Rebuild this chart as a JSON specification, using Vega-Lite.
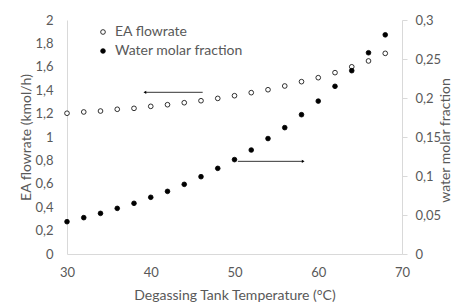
{
  "$schema": "https://vega.github.io/schema/vega-lite/v6.json",
  "width": 335,
  "height": 234,
  "autosize": "none",
  "padding": {"left": 67, "top": 20, "right": 54, "bottom": 53},
  "background": "white",
  "config": {
    "view": {"stroke": null},
    "font": "Lato",
    "locale": {"number": {"decimal": ",", "thousands": ".", "grouping": [3], "currency": ["", " €"]}},
    "axis": {"grid": false, "labelColor": "#595959", "titleColor": "#595959", "labelFont": "Lato", "titleFont": "Lato", "labelFontSize": 13, "titleFontSize": 14, "titleFontWeight": "normal", "domainColor": "#d9d9d9", "ticks": false, "labelFlush": false, "labelOverlap": false}
  },
  "datasets": {
    "pts": [
      {"T": 30, "ea": 1.203, "water": 0.0414},
      {"T": 32, "ea": 1.214, "water": 0.0466},
      {"T": 34, "ea": 1.222, "water": 0.0521},
      {"T": 36, "ea": 1.237, "water": 0.0585},
      {"T": 38, "ea": 1.245, "water": 0.065},
      {"T": 40, "ea": 1.262, "water": 0.0727},
      {"T": 42, "ea": 1.276, "water": 0.0803},
      {"T": 44, "ea": 1.293, "water": 0.0893},
      {"T": 46, "ea": 1.31, "water": 0.0991},
      {"T": 48, "ea": 1.33, "water": 0.1098},
      {"T": 50, "ea": 1.353, "water": 0.121},
      {"T": 52, "ea": 1.379, "water": 0.1333},
      {"T": 54, "ea": 1.404, "water": 0.148},
      {"T": 56, "ea": 1.436, "water": 0.162},
      {"T": 58, "ea": 1.473, "water": 0.1786},
      {"T": 60, "ea": 1.507, "water": 0.196},
      {"T": 62, "ea": 1.55, "water": 0.215},
      {"T": 64, "ea": 1.6, "water": 0.235},
      {"T": 66, "ea": 1.65, "water": 0.258},
      {"T": 68, "ea": 1.715, "water": 0.281}
    ],
    "arrows": [
      {"x1": 46.2, "x2": 39.3, "y": 1.382, "head": "triangle-left"},
      {"x1": 50.4, "x2": 58.2, "y": 0.792, "head": "triangle-right"}
    ]
  },
  "layer": [
    {
      "data": {"name": "pts"},
      "mark": {"type": "point", "filled": true, "stroke": "black", "strokeWidth": 0.8, "size": 22, "opacity": 1},
      "encoding": {
        "x": {"field": "T", "type": "quantitative", "scale": {"domain": [30, 70], "nice": false}, "axis": {"values": [30, 40, 50, 60, 70], "title": "Degassing Tank Temperature (°C)", "labelPadding": 12, "titlePadding": 9, "labelOverlap": false}},
        "y": {"field": "ea", "type": "quantitative", "scale": {"domain": [0, 2], "nice": false}, "axis": {"values": [0, 0.2, 0.4, 0.6, 0.8, 1, 1.2, 1.4, 1.6, 1.8, 2], "format": ".1~f", "title": "EA flowrate (kmol/h)", "labelPadding": 14, "labelOverlap": false, "titleX": -41, "titleY": 117, "titleBaseline": "middle", "titleAlign": "center", "titleAngle": 270}},
        "fill": {"datum": "EA flowrate", "type": "nominal", "scale": {"domain": ["EA flowrate", "Water molar fraction"], "range": ["white", "black"]}, "legend": {"title": null, "orient": "none", "legendX": 29, "legendY": 5, "symbolType": "circle", "symbolSize": 22, "symbolStrokeColor": "black", "symbolStrokeWidth": 0.8, "labelFontSize": 14, "labelColor": "#595959", "labelFont": "Lato", "rowPadding": 5, "labelOffset": 5}}
      }
    },
    {
      "data": {"name": "arrows"},
      "mark": {"type": "rule", "color": "black", "strokeWidth": 0.8},
      "encoding": {
        "x": {"field": "x1", "type": "quantitative", "scale": {"domain": [30, 70], "nice": false}, "title": "Degassing Tank Temperature (°C)"},
        "x2": {"field": "x2"},
        "y": {"field": "y", "type": "quantitative", "scale": {"domain": [0, 2], "nice": false}, "axis": null}
      }
    },
    {
      "data": {"name": "arrows"},
      "mark": {"type": "point", "filled": true, "color": "black", "size": 10, "opacity": 1},
      "encoding": {
        "x": {"field": "x2", "type": "quantitative", "scale": {"domain": [30, 70], "nice": false}, "title": "Degassing Tank Temperature (°C)"},
        "y": {"field": "y", "type": "quantitative", "scale": {"domain": [0, 2], "nice": false}, "axis": null},
        "shape": {"field": "head", "type": "nominal", "scale": null}
      }
    },
    {
      "data": {"name": "pts"},
      "mark": {"type": "point", "filled": true, "stroke": "black", "strokeWidth": 0.8, "size": 22, "opacity": 1},
      "encoding": {
        "x": {"field": "T", "type": "quantitative", "scale": {"domain": [30, 70], "nice": false}, "title": "Degassing Tank Temperature (°C)"},
        "y": {"field": "water", "type": "quantitative", "scale": {"domain": [0, 0.3], "nice": false}, "axis": {"orient": "right", "values": [0, 0.05, 0.1, 0.15, 0.2, 0.25, 0.3], "format": ".2~f", "title": "water molar fraction", "ticks": true, "tickColor": "#d9d9d9", "tickSize": 5, "labelPadding": 8, "labelOverlap": false, "titleX": 43, "titleY": 120, "titleBaseline": "middle", "titleAlign": "center", "titleAngle": 270, "titleFontSize": 14}},
        "fill": {"datum": "Water molar fraction", "type": "nominal"}
      }
    }
  ],
  "resolve": {"scale": {"y": "independent"}}
}
